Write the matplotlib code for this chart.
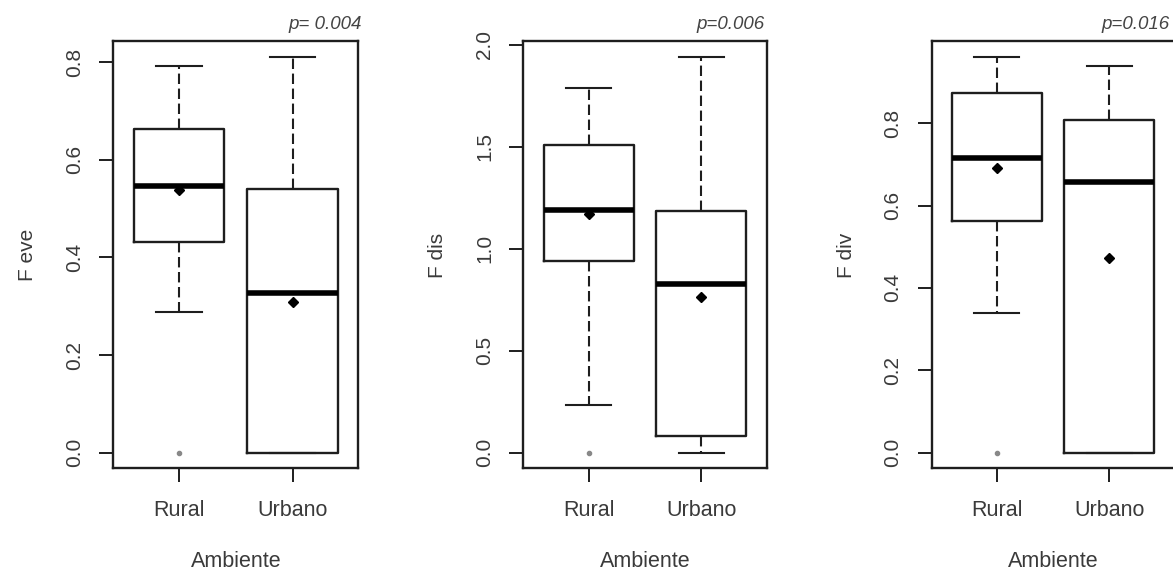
import matplotlib
matplotlib.use('Agg')
import matplotlib.pyplot as plt

plt.rcParams['font.family'] = ['Liberation Sans', 'DejaVu Sans']

categorias = ['Rural', 'Urbano']

# F eve
eve_whislo = [0.288, 0.0]
eve_q1 = [0.432, 0.0]
eve_med = [0.547, 0.327]
eve_q3 = [0.663, 0.541]
eve_whishi = [0.793, 0.81]
eve_mean = [0.538, 0.308]
eve_fliers = [[0.0], []]

# F dis
dis_whislo = [0.232, 0.0]
dis_q1 = [0.941, 0.084]
dis_med = [1.189, 0.826]
dis_q3 = [1.507, 1.185]
dis_whishi = [1.787, 1.94]
dis_mean = [1.171, 0.763]
dis_fliers = [[0.0], []]

# F div
div_whislo = [0.338, 0.0]
div_q1 = [0.5635, 0.0]
div_med = [0.7155, 0.658]
div_q3 = [0.873, 0.808]
div_whishi = [0.96, 0.9395]
div_mean = [0.691, 0.472]
div_fliers = [[0.0], []]

ylabels = ['F eve', 'F dis', 'F div']
pvalores = ['p= 0.004', 'p=0.006', 'p=0.016']
yticks = [[0, 0.2, 0.4, 0.6, 0.8], [0, 0.5, 1.0, 1.5, 2.0], [0, 0.2, 0.4, 0.6, 0.8]]

paneles = [
    (eve_whislo, eve_q1, eve_med, eve_q3, eve_whishi, eve_mean, eve_fliers),
    (dis_whislo, dis_q1, dis_med, dis_q3, dis_whishi, dis_mean, dis_fliers),
    (div_whislo, div_q1, div_med, div_q3, div_whishi, div_mean, div_fliers),
]

fig = plt.figure(figsize=(11.73, 5.74), dpi=100)
rects = [
    [113.3 / 1173, 0.1838, 245.0 / 1173, 0.7441],
    [523.3 / 1173, 0.1838, 243.4 / 1173, 0.7441],
    [931.7 / 1173, 0.1838, 242.5 / 1173, 0.7441],
]
# posicion horizontal del texto del p-valor (coordenadas de ejes)
p_x = [1.014, 0.993, 0.983]

linea = '#1e1e1e'
texto = '#3a3a3a'

for i, (lo, q1, med, q3, hi, mean, fl) in enumerate(paneles):
    ax = fig.add_axes(rects[i])
    stats = []
    for j, cat in enumerate(categorias):
        stats.append(dict(label=cat, whislo=lo[j], q1=q1[j], med=med[j], q3=q3[j],
                          whishi=hi[j], mean=mean[j], fliers=fl[j]))
    ax.bxp(stats, positions=[1, 2], widths=0.8, capwidths=0.4, showmeans=True,
           boxprops=dict(color=linea, lw=1.7),
           medianprops=dict(color='black', lw=4.0, solid_capstyle='butt'),
           whiskerprops=dict(color=linea, lw=1.5, linestyle=(0, (5, 2.2))),
           capprops=dict(color=linea, lw=1.5),
           meanprops=dict(marker='D', markerfacecolor='black', markeredgecolor='black', markersize=5),
           flierprops=dict(marker='o', markerfacecolor='#888888', markeredgecolor='#888888', markersize=3))
    top = max(hi)
    ax.set_ylim(-0.04 * top, 1.04 * top)
    ax.set_xlim(0.42, 2.58)
    ax.set_yticks(yticks[i])
    ax.set_yticklabels([f'{v:.1f}' for v in yticks[i]])
    ax.tick_params(axis='y', labelrotation=90, length=10, width=1.4, pad=11,
                   labelsize=15, colors=linea, labelcolor=texto)
    ax.tick_params(axis='x', length=10, width=1.4, pad=13, labelsize=15.5,
                   colors=linea, labelcolor=texto)
    for lab in ax.get_yticklabels():
        lab.set_va('center')
    for s in ax.spines.values():
        s.set_linewidth(1.7)
        s.set_color(linea)
    ax.set_ylabel(ylabels[i], fontsize=15, color=texto, labelpad=20)
    ax.set_xlabel('Ambiente', fontsize=15.5, color=texto, labelpad=21)
    ax.text(p_x[i], 1.029, pvalores[i], transform=ax.transAxes, ha='right', va='baseline',
            fontsize=13.5, style='italic', color='#444444')

fig.savefig('out.png', dpi=100)
